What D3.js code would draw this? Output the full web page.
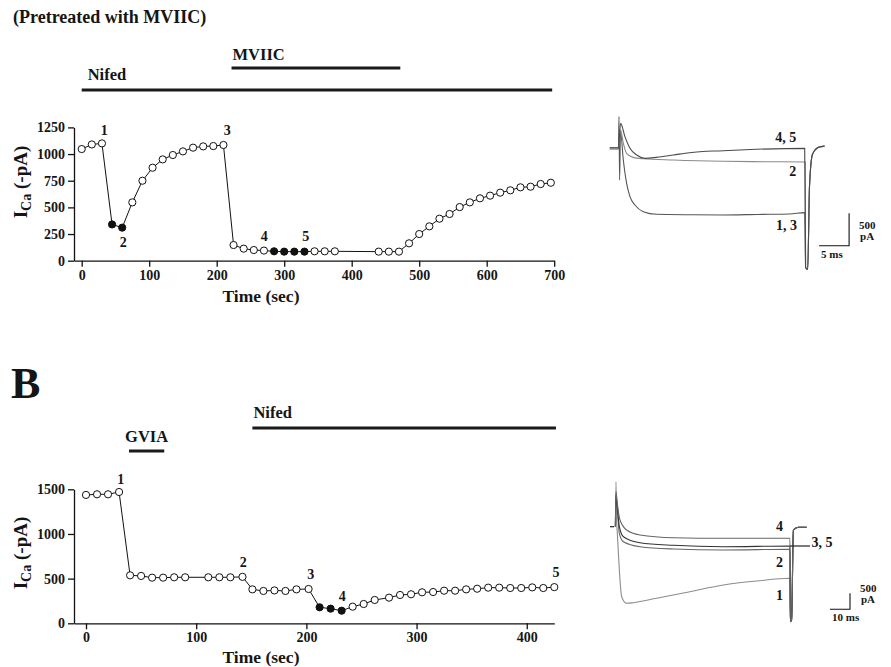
<!DOCTYPE html>
<html><head><meta charset="utf-8">
<script src="https://cdn.jsdelivr.net/npm/d3@7"></script>
<style>
body{margin:0;background:#fff}
text{font-family:"Liberation Serif","Times New Roman",serif;font-weight:bold;fill:#151515}
</style>
</head><body>
<svg id="c" width="891" height="667"></svg>
<script>
// ---------- Panel A (pretreated with MVIIC) ----------
const timeA = [0,15,30,45,60,75,90,105,120,135,150,165,180,195,210,225,240,255,270,285,300,315,330,345,360,375,440,455,470,485,500,515,530,545,560,575,590,605,620,635,650,665,680,695];
const icaA  = [1047,1090,1100,340,310,547,750,872,950,991,1025,1060,1072,1075,1085,147,113,100,95,88,85,85,85,88,88,88,85,85,85,163,250,322,394,438,503,547,585,610,638,660,688,694,719,731];
const filledA = [45,60,285,300,315,330];
const ticksAx = [0,100,200,300,400,500,600,700];
const ticksAy = [0,250,500,750,1000,1250];
const labelsA = [["1",33.5,1178],["2",61.6,128],["3",215.7,1178],["4",270.5,187],["5",332,187]];
const barsA = [{name:"Nifed",from:0,to:697,row:1},{name:"MVIIC",from:222,to:472,row:0}];

// Panel A current traces: [ms, pA]
const tracesA = [
  {label:"1, 3", color:"#555", pts:[[-1.6,-20],[-0.15,-20],[-0.05,480],[0.05,-500],[0.2,250],[0.67,-190],[1.22,-550],[1.78,-756],[2.6,-884],[4.0,-987],[6.2,-1028],[12,-1035],[17.3,-1038],[23,-1030],[28.4,-1023],[30.9,-1002]]},
  {label:"2", color:"#8a8a8a", pts:[[-1.6,0],[-0.15,0],[0.22,273],[0.67,68],[1.2,-87],[2.3,-149],[4.0,-170],[9.0,-190],[17.3,-210],[24,-216],[31,-221]]},
  {label:"4, 5", color:"#4a4a4a", pts:[[-1.6,0],[-0.15,0],[0.22,376],[0.94,170],[1.78,-10],[2.9,-113],[4.3,-164],[6.2,-149],[9.0,-113],[11.7,-77],[17.3,-46],[22.8,-25],[30.9,-10]]}
];
const tailA = [[31.05,-1850],[31.4,-1880],[31.7,-600],[32.2,-100],[33.3,10],[34.2,25]];
const traceLabelsA = [["4, 5",26,93,"start"],["2",28.9,-437,"middle"],["1, 3",26.1,-1270,"start"]];
const scaleBarA = {ms:5, pA:500, msLabel:"5 ms", pALabel:["500","pA"], atMs:38.3, atPA:-1512};

// ---------- Panel B ----------
const timeB = [0,10,20,30,40,50,60,70,80,90,111,121,131,142,151,161,171,181,191,202,212,222,232,242,252,262,275,285,295,305,315,325,335,345,355,365,375,385,395,405,415,425];
const icaB  = [1437,1444,1444,1470,537,530,511,511,515,515,515,515,515,520,380,362,368,362,380,384,179,164,141,186,216,261,287,317,325,347,350,365,365,380,387,399,399,395,395,402,395,405];
const filledB = [212,222,232];
const ticksBx = [0,100,200,300,400];
const ticksBy = [0,500,1000,1500];
const labelsB = [["1",31.5,1560],["2",142.7,627],["3",203.9,496],["4",232.6,253],["5",426.5,522]];
const barsB = [{name:"GVIA",from:39,to:71,row:1},{name:"Nifed",from:151,to:426.5,row:0}];

const tracesB = [
  {label:"1", color:"#8c8c8c", pts:[[-0.3,0],[0,1406],[0.2,300],[0.67,-209],[1.67,-1353],[2.83,-2188],[5.3,-2394],[8.7,-2375],[20.3,-2238],[37,-2031],[53.7,-1822],[70.3,-1697],[87,-1612]]},
  {label:"2", color:"#666", pts:[[-0.3,0],[0,1000],[0.3,800],[0.67,522],[1.67,-206],[3.7,-469],[12,-625],[28.7,-697],[53.7,-728],[87,-706]]},
  {label:"3, 5", color:"#333", pts:[[-0.3,0],[0,1000],[0.3,850],[0.67,625],[1.67,0],[3.7,-312],[12,-500],[28.7,-581],[53.7,-625],[87,-603]]},
  {label:"4", color:"#666", pts:[[-0.3,0],[0,1100],[0.3,950],[0.67,731],[2,209],[5.3,-103],[12,-259],[28.7,-344],[53.7,-362],[87,-362]]}
];
const tailB = [[87.15,-2969],[87.8,-2900],[88.7,-103],[91.2,-19],[95.3,-19]];
const preB = [[-3,0],[-1,0]];
const pointer35 = [[87,-603],[97,-603]];
const traceLabelsB = [["4",81.8,-134,"middle"],["3, 5",97.8,-634,"start"],["2",81.8,-1250,"middle"],["1",81.8,-2291,"middle"]];
const scaleBarB = {ms:10, pA:500, msLabel:"10 ms", pALabel:["500","pA"], atMs:117, atPA:-2581};

// ---------- drawing ----------
const svg = d3.select("#c");

svg.append("text").attr("x",13).attr("y",23).style("font-size","18px").text("(Pretreated with MVIIC)");
svg.append("text").attr("x",11).attr("y",398).style("font-size","44px").text("B");

function panel(cfg){
  const x = d3.scaleLinear().domain(cfg.xd).range(cfg.xr);
  const y = d3.scaleLinear().domain(cfg.yd).range(cfg.yr);
  const g = svg.append("g");
  const fmt = d3.format("d");
  const ax = g.append("g").attr("transform",`translate(0,${cfg.yr[0]})`)
    .call(d3.axisBottom(x).tickValues(cfg.tx).tickFormat(fmt).tickSize(6).tickSizeOuter(0).tickPadding(3));
  const ay = g.append("g").attr("transform",`translate(${cfg.xr[0]},0)`)
    .call(d3.axisLeft(y).tickValues(cfg.ty).tickFormat(fmt).tickSize(6).tickSizeOuter(0).tickPadding(3));
  [ax,ay].forEach(a=>{
    a.selectAll("path,line").attr("stroke","#111").attr("stroke-width",1.3);
    a.selectAll("text").style("font-size","14px").attr("fill","#151515")
      .style("font-family",'"Liberation Serif",serif').style("font-weight","bold");
  });
  g.append("text").attr("x",cfg.xtitle[0]).attr("y",cfg.xtitle[1]).attr("text-anchor","middle")
    .style("font-size","17.5px").text("Time (sec)");
  const yt = g.append("text").attr("transform",`translate(${cfg.ytitle[0]},${cfg.ytitle[1]}) rotate(-90)`)
    .attr("text-anchor","middle").style("font-size","19px");
  yt.append("tspan").text("I");
  yt.append("tspan").attr("dy",4).style("font-size","14px").text("Ca");
  yt.append("tspan").attr("dy",-4).text(" (-pA)");
  const data = cfg.t.map((t,i)=>({t, v:cfg.v[i], f:cfg.filled.includes(t)}));
  g.append("path").datum(data).attr("fill","none").attr("stroke","#111").attr("stroke-width",1)
    .attr("d", d3.line().x(d=>x(d.t)).y(d=>y(d.v)));
  g.selectAll("circle.p").data(data).join("circle")
    .attr("cx",d=>x(d.t)).attr("cy",d=>y(d.v)).attr("r",3.6)
    .attr("fill",d=>d.f?"#111":"#fff").attr("stroke","#111").attr("stroke-width",1);
  g.selectAll("text.pl").data(cfg.labels).join("text")
    .attr("x",d=>x(d[1])).attr("y",d=>y(d[2])).attr("text-anchor","middle")
    .style("font-size","14px").text(d=>d[0]);
  cfg.bars.forEach(b=>{
    const yy = cfg.barY[b.row];
    g.append("line").attr("x1",x(b.from)).attr("x2",x(b.to)).attr("y1",yy).attr("y2",yy)
      .attr("stroke","#1a1a1a").attr("stroke-width",3);
    const tx = b.name==="GVIA" ? (x(b.from)+x(b.to))/2 : x(b.from)+ (b.name==="Nifed"&&cfg.id==="A"?6:1);
    g.append("text").attr("x",tx).attr("y",yy-cfg.barTextGap[b.row])
      .attr("text-anchor",b.name==="GVIA"?"middle":"start").style("font-size","16.5px").text(b.name);
  });
}

panel({id:"A", xd:[-11.4,700], xr:[74,554.2], yd:[0,1250], yr:[260.7,127.4],
  tx:ticksAx, ty:ticksAy, t:timeA, v:icaA, filled:filledA, labels:labelsA, bars:barsA,
  barY:[68,90], barTextGap:[8,10], xtitle:[261,302], ytitle:[27,182]});

panel({id:"B", xd:[-10.9,425], xr:[74,554.3], yd:[0,1500], yr:[623.3,489.3],
  tx:ticksBx, ty:ticksBy, t:timeB, v:icaB, filled:filledB, labels:labelsB, bars:barsB,
  barY:[428,451], barTextGap:[10,9], xtitle:[261,663], ytitle:[27,553]});

function traces(cfg){
  const x = d3.scaleLinear().domain([0,cfg.msUnit]).range([cfg.x0, cfg.x0+cfg.pxPerMs*cfg.msUnit]);
  const y = d3.scaleLinear().domain([0,-cfg.sb.pA]).range([cfg.y0, cfg.y0+cfg.sbPx]);
  const g = svg.append("g");
  const line = d3.line().x(d=>x(d[0])).y(d=>y(d[1])).curve(d3.curveMonotoneX);
  cfg.tr.forEach(tr=>{
    const pts = tr.pts.concat(cfg.tail);
    g.append("path").attr("d",line(pts)).attr("fill","none").attr("stroke",tr.color).attr("stroke-width",1.1);
  });
  if(cfg.extra) cfg.extra.forEach(e=>g.append("path").attr("d",d3.line().x(d=>x(d[0])).y(d=>y(d[1])) (e))
      .attr("fill","none").attr("stroke","#222").attr("stroke-width",1.2));
  g.selectAll("text.tl").data(cfg.labels).join("text")
    .attr("x",d=>x(d[1])).attr("y",d=>y(d[2])).attr("text-anchor",d=>d[3])
    .style("font-size","14px").text(d=>d[0]);
  const cx = x(cfg.sb.atMs), cy = y(cfg.sb.atPA);
  g.append("path").attr("fill","none").attr("stroke","#111").attr("stroke-width",1.1)
    .attr("d",`M${x(cfg.sb.atMs-cfg.sb.ms)},${cy}H${cx}V${y(cfg.sb.atPA+cfg.sb.pA)}`);
  g.append("text").attr("x",cx+10).attr("y",cy-17).style("font-size","11px").text(cfg.sb.pALabel[0]);
  g.append("text").attr("x",cx+11).attr("y",cy-6).style("font-size","11px").text(cfg.sb.pALabel[1]);
  g.append("text").attr("x",x(cfg.sb.atMs-cfg.sb.ms)+2).attr("y",cy+12).style("font-size","11px").text(cfg.sb.msLabel);
}

traces({x0:619.3, pxPerMs:6, msUnit:5, y0:147.7, sbPx:32.4, sb:scaleBarA, tr:tracesA, tail:tailA, labels:traceLabelsA});
traces({x0:616, pxPerMs:2, msUnit:10, y0:526.7, sbPx:16, sb:scaleBarB, tr:tracesB, tail:tailB, labels:traceLabelsB, extra:[preB,pointer35]});
</script>
</body></html>
